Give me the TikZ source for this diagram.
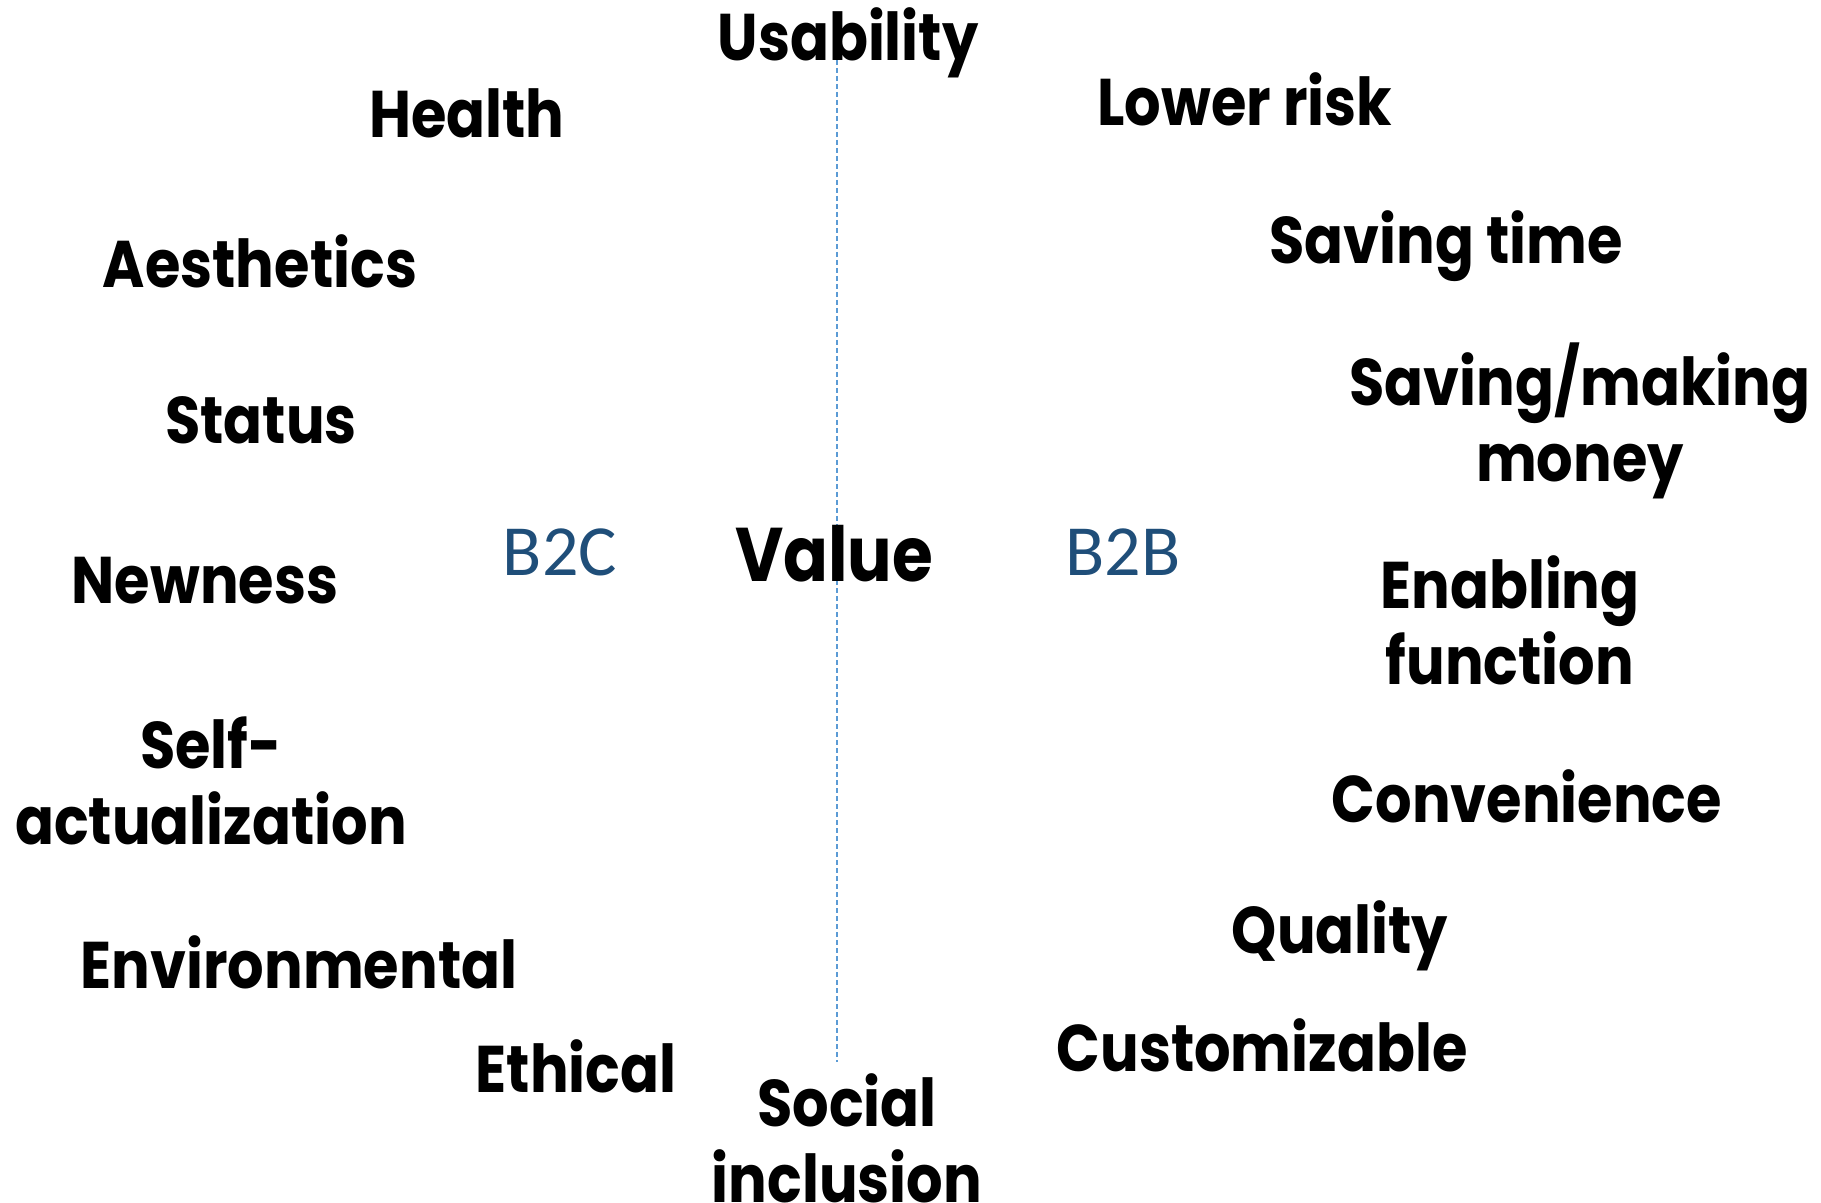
\documentclass[tikz,border=0pt]{standalone}
\usepackage{fontspec}
\setmainfont{Poppins}[FakeStretch=0.87]
\newfontfamily\labelfont{Carlito}
\usepackage{xcolor}
\usetikzlibrary{positioning}

\definecolor{axisblue}{RGB}{91,155,213}
\definecolor{sideblue}{RGB}{31,78,121}

\begin{document}
\begin{tikzpicture}[x=0.5pt, y=-0.5pt,
    item/.style={font=\fontsize{33}{38}\selectfont\bfseries, align=center, inner sep=0pt},
    side/.style={font=\labelfont\fontsize{36}{40}\selectfont, text=sideblue, inner sep=0pt}]
      \useasboundingbox (0, 0) rectangle (1821, 1203);

      % centre divider
      \coordinate (top) at (837, 60);
      \coordinate (bottom) at (837, 1062);
      \draw[axisblue, line width=0.6pt, dash pattern=on 2.5pt off 1.5pt] (top) -- (bottom);

      \node[item, font=\fontsize{38}{44}\selectfont\bfseries] (value) at (834, 554) {Value};
      \node[side] (b2c) at (560, 552) {B2C};
      \node[side] (b2b) at (1123, 552) {B2B};

      % consumer side
      \node[item] (health) at (467, 113) {Health};
      \node[item] (aesthetics) at (260, 261) {Aesthetics};
      \node[item] (status) at (261, 420) {Status};
      \node[item] (newness) at (205, 581) {Newness};
      \node[item] (selfact) at (211, 781) {Self-\\actualization};
      \node[item] (environ) at (299, 962) {Environmental};
      \node[item] (ethical) at (576, 1066) {Ethical};

      % business side
      \node[item] (lowrisk) at (1245, 99) {Lower risk};
      \node[item] (savtime) at (1446, 246) {Saving time};
      \node[item] (money) at (1580, 421) {Saving/making\\money};
      \node[item] (enabling) at (1510, 620) {Enabling\\function};
      \node[item] (conven) at (1527, 796) {Convenience};
      \node[item] (quality) at (1340, 936) {Quality};
      \node[item] (custom) at (1262, 1045) {Customizable};

      % top and bottom
      \node[item] (usability) at (848, 43) {Usability};
      \node[item] (social) at (847, 1138) {Social\\inclusion};
    \end{tikzpicture}
\end{document}
